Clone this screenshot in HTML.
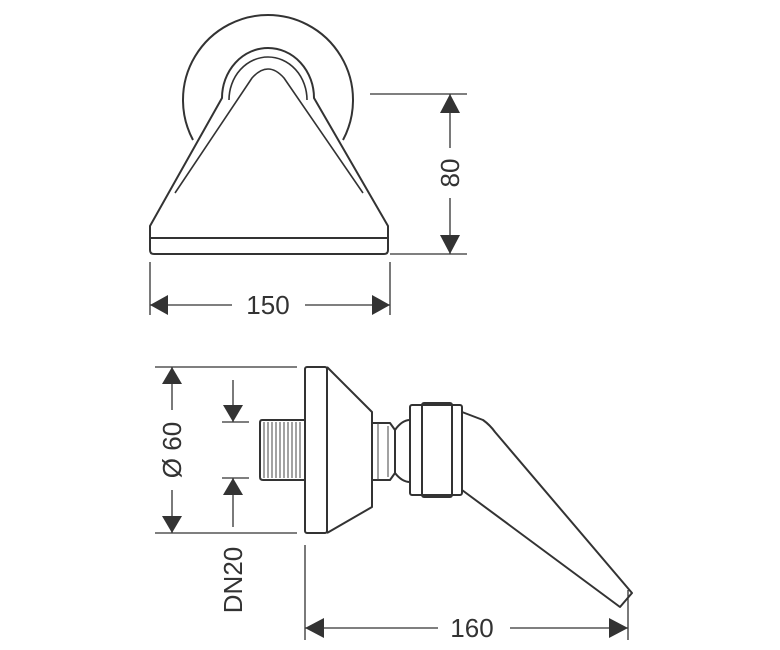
<!DOCTYPE html>
<html><head><meta charset="utf-8"><style>
html,body{margin:0;padding:0;background:#fff;width:780px;height:650px;overflow:hidden}
svg{display:block}
text{font-family:"Liberation Sans",sans-serif;fill:#333}
</style></head><body>
<svg width="780" height="650" viewBox="0 0 780 650" xmlns="http://www.w3.org/2000/svg">
<g fill="none" stroke="#333" stroke-width="2" stroke-linejoin="round">
<path d="M193,140 A85,85 0 1 1 343,140"/>
<path d="M150,238 L150,226 L222,98 A46,50 0 0 1 314,98 L388,226 L388,238"/>
<path d="M229,100 A39,43 0 0 1 307,100" stroke-width="1.6"/>
<path d="M150,238 L388,238 L388,250 Q388,254 384,254 L154,254 Q150,254 150,250 Z"/>
<path d="M175,193 L252,78 Q268,60 284,78 L363,193" stroke-width="1.6"/>
</g>
<g stroke="#333" stroke-width="1.3" fill="none">
<line x1="370" y1="94" x2="467" y2="94"/><line x1="390" y1="254" x2="467" y2="254"/>
<line x1="450" y1="94" x2="450" y2="148"/><line x1="450" y1="198" x2="450" y2="254"/>
<line x1="150" y1="262" x2="150" y2="315"/><line x1="390" y1="262" x2="390" y2="315"/>
<line x1="150" y1="305" x2="232" y2="305"/><line x1="305" y1="305" x2="390" y2="305"/>
<line x1="155" y1="367" x2="297" y2="367"/><line x1="155" y1="533" x2="297" y2="533"/>
<line x1="172" y1="367" x2="172" y2="410"/><line x1="172" y1="490" x2="172" y2="533"/>
<line x1="222" y1="422" x2="249" y2="422"/><line x1="222" y1="478" x2="249" y2="478"/>
<line x1="233" y1="380" x2="233" y2="422"/><line x1="233" y1="478" x2="233" y2="527"/>
<line x1="305" y1="545" x2="305" y2="640"/><line x1="628" y1="590" x2="628" y2="640"/>
<line x1="305" y1="628" x2="438" y2="628"/><line x1="510" y1="628" x2="628" y2="628"/>
</g>
<g fill="#333">
<polygon points="450,94 440,113 460,113"/><polygon points="450,254 440,235 460,235"/>
<polygon points="150,305 168,295 168,315"/><polygon points="390,305 372,295 372,315"/>
<polygon points="172,367 162,384 182,384"/><polygon points="172,533 162,516 182,516"/>
<polygon points="233,422 223,405 243,405"/><polygon points="233,478 223,495 243,495"/>
<polygon points="305,628 324,618 324,638"/><polygon points="628,628 609,618 609,638"/>
</g>
<text x="268" y="314" font-size="26" text-anchor="middle">150</text>
<text transform="translate(459,173) rotate(-90)" font-size="26" text-anchor="middle">80</text>
<text transform="translate(181,450) rotate(-90)" font-size="26" text-anchor="middle">Ø 60</text>
<text transform="translate(242,580) rotate(-90)" font-size="26" text-anchor="middle">DN20</text>
<text x="472" y="637" font-size="26" text-anchor="middle">160</text>
<g fill="none" stroke="#333" stroke-width="2" stroke-linejoin="round">
<rect x="305" y="367" width="22" height="166" rx="2"/>
<path d="M327,367 L372,412 L372,507 L327,533"/>
<path d="M305,420 L262,420 Q260,420 260,423 L260,477 Q260,480 263,480 L305,480"/>
<path d="M372,423 L390,423 L395,430 L395,473 L390,480 L372,480"/>
<path d="M395,430 Q402,420 410,420 M395,473 Q402,482 410,482"/>
<rect x="410" y="405" width="52" height="90" rx="2"/>
<rect x="422" y="403" width="30" height="94" rx="2"/>
<path d="M462,412 L483,420 Q490,425 495,432 L632,593 L620,607 L462,490"/>
</g>
<g stroke="#444" stroke-width="1">
<line x1="264" y1="422" x2="264" y2="478"/><line x1="268" y1="422" x2="268" y2="478"/><line x1="272" y1="422" x2="272" y2="478"/><line x1="276" y1="422" x2="276" y2="478"/><line x1="280" y1="422" x2="280" y2="478"/><line x1="284" y1="422" x2="284" y2="478"/><line x1="288" y1="422" x2="288" y2="478"/><line x1="292" y1="422" x2="292" y2="478"/><line x1="296" y1="422" x2="296" y2="478"/><line x1="300" y1="422" x2="300" y2="478"/>
<line x1="378" y1="423" x2="378" y2="480"/><line x1="388" y1="426" x2="388" y2="477"/>
</g>
</svg>
</body></html>
